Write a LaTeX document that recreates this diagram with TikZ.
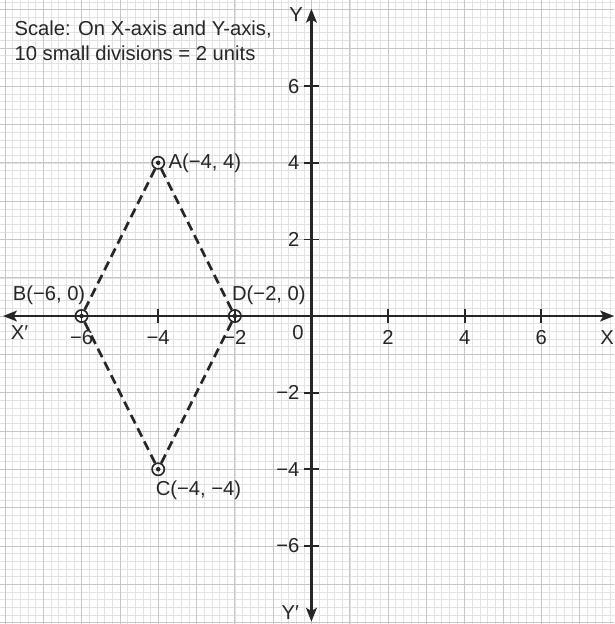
\documentclass[tikz,border=0pt]{standalone}
\usepackage{fontspec}
\setmainfont{Liberation Sans}
\usetikzlibrary{arrows.meta,positioning}

\begin{document}
\begin{tikzpicture}[
    minorgrid/.style={draw=gray!22, line width=0.3pt},
    majorgrid/.style={draw=gray!45, line width=0.5pt},
    axis/.style={{Stealth[length=3.6mm,width=2.8mm,inset=0.8mm]}-{Stealth[length=3.6mm,width=2.8mm,inset=0.8mm]},
                 line width=1.7pt, color=black!85},
    tick/.style={line width=1.3pt, color=black!85},
    lbl/.style={font=\fontsize{15}{18.6}\selectfont, text=black!85, inner sep=1pt},
    pt/.style={circle, draw=black!85, line width=1.2pt, inner sep=0pt, minimum size=3.2mm,
               path picture={\fill[black!85] (path picture bounding box.center) circle (0.6mm);}},
    side/.style={dash pattern=on 7pt off 4pt, line width=2pt, color=black!85}
]

\fill[white] (-8.13,-8.04) rectangle (7.9,8.25);
\useasboundingbox (-8.13,-8.04) rectangle (7.9,8.25);

% Graph paper
\draw[minorgrid, step=0.2] (-8.13,-8.04) grid (7.9,8.25);
\draw[majorgrid, step=1] (-8.13,-8.04) grid (7.9,8.25);

% Axes
\coordinate (xl) at (-8.05,0);
\coordinate (xr) at (7.9,0);
\coordinate (yt) at (0,8.02);
\coordinate (yb) at (0,-7.98);
\draw[axis] (xl) -- (xr);
\draw[axis] (yb) -- (yt);

\node[lbl] (X) at (7.72,-0.55) {X};
\node[lbl] (Xp) at (-7.62,-0.42) {X′};
\node[lbl] (Y) at (-0.4,7.86) {Y};
\node[lbl] (Yp) at (-0.55,-7.75) {Y′};

% Ticks
\foreach \x/\t in {-6/−6, -4/−4, -2/−2, 2/2, 4/4, 6/6} {
    \draw[tick] (\x,-0.18) -- (\x,0.18);
    \node[lbl] (xt\x) at (\x,-0.56) {\t};
}
\foreach \y/\t in {-6/−6, -4/−4, -2/−2, 2/2, 4/4, 6/6} {
    \draw[tick] (-0.2,\y) -- (0.2,\y);
    \node[lbl, anchor=east] (yt\y) at (-0.27,\y) {\t};
}
\node[lbl] (O) at (-0.35,-0.42) {0};

% Scale note
\node[lbl, anchor=north west, align=left] (scale) at (-7.79,7.74)
    {Scale: On X-axis and Y-axis,\\10 small divisions = 2 units};

% Rhombus ABCD
\node[pt] (A) at (-4,4) {};
\node[pt] (B) at (-6,0) {};
\node[pt] (C) at (-4,-4) {};
\node[pt] (D) at (-2,0) {};

\draw[side] (A) -- (B);
\draw[side] (B) -- (C);
\draw[side] (C) -- (D);
\draw[side] (D) -- (A);

\node[lbl, right=0.5mm of A] (Alab) {A(−4, 4)};
\node[lbl] (Blab) at (-6.85,0.55) {B(−6, 0)};
\node[lbl] (Clab) at (-2.95,-4.54) {C(−4, −4)};
\node[lbl] (Dlab) at (-1.11,0.55) {D(−2, 0)};

\end{tikzpicture}
\end{document}
